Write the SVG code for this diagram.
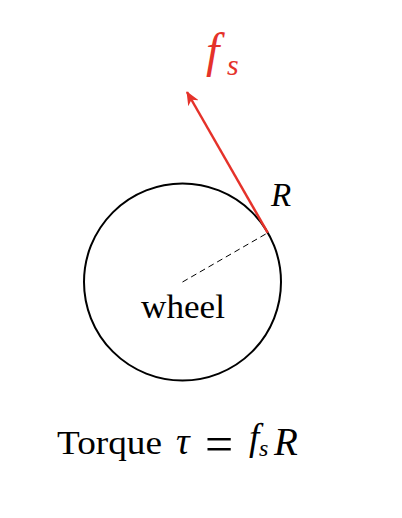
<svg xmlns="http://www.w3.org/2000/svg" width="402" height="518" viewBox="0 0 402 518">
<defs>
<style>
.serif{font-family:"Liberation Serif","DejaVu Serif",serif;fill:#000}
.it{font-style:italic}
.red{fill:#e5322a}
</style>
<marker id="ah" viewBox="0 0 14 12" refX="13" refY="6" markerWidth="14" markerHeight="12" markerUnits="userSpaceOnUse" orient="auto">
<path d="M0,0 L14,6 L0,12 L4,6 Z" fill="#e5322a"/>
</marker>
</defs>
<rect width="402" height="518" fill="#fff"/>
<g id="wheel">
<circle cx="182.5" cy="282" r="98.5" fill="none" stroke="#000" stroke-width="2"/>
<text class="serif" x="183" y="318" font-size="34" text-anchor="middle" textLength="84" lengthAdjust="spacingAndGlyphs">wheel</text>
</g>
<g id="connectors">
<line x1="182.5" y1="282" x2="267.8" y2="232.8" stroke="#000" stroke-width="1" stroke-dasharray="6,4"/>
<line x1="267.8" y1="232.8" x2="187" y2="92" stroke="#e5322a" stroke-width="2.5" marker-end="url(#ah)"/>
</g>
<g id="label-R">
<text class="serif it" x="271" y="206" font-size="33">R</text>
</g>
<g id="label-fs">
<text class="serif it red" x="206" y="67" font-size="48">f</text>
<text class="serif it red" x="227" y="75" font-size="30">s</text>
</g>
<g id="torque">
<text class="serif" x="57" y="454" font-size="34" textLength="105" lengthAdjust="spacingAndGlyphs">Torque</text>
<text class="serif it" x="176" y="454" font-size="38">τ</text>
<text class="serif" x="205" y="461" font-size="50">=</text>
<text class="serif it" x="249" y="450" font-size="37">f</text>
<text class="serif it" x="259" y="456" font-size="24">s</text>
<text class="serif it" x="274" y="455" font-size="39">R</text>
</g>
</svg>
